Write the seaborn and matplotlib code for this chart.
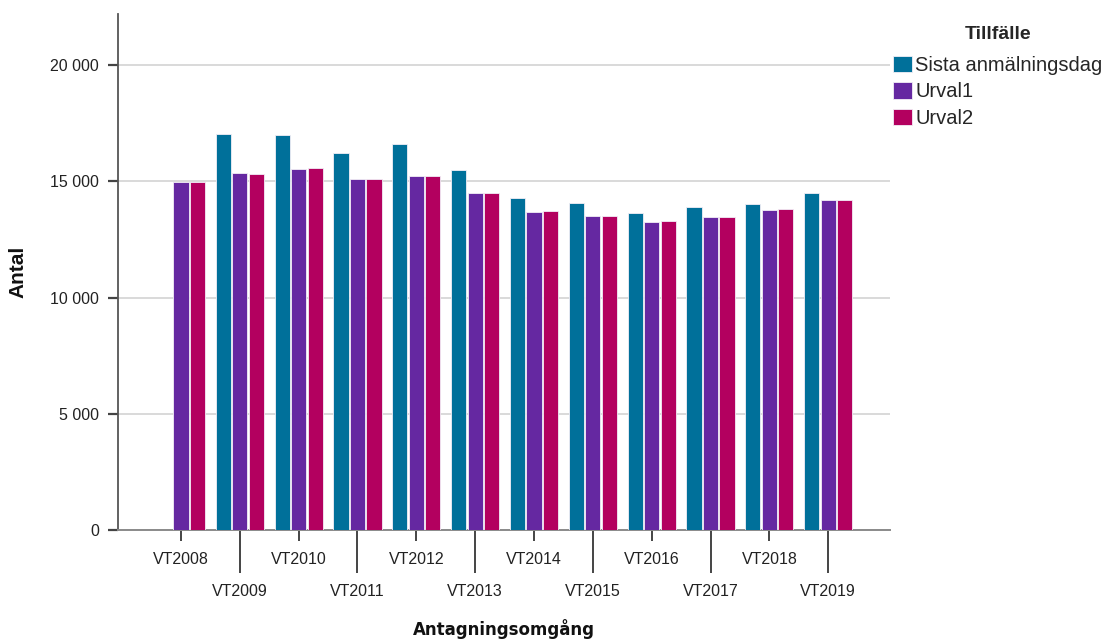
import numpy as np
import pandas as pd
import matplotlib
matplotlib.use("Agg")
import matplotlib.pyplot as plt
import seaborn as sns

# values
rounds = ["VT2008", "VT2009", "VT2010", "VT2011", "VT2012", "VT2013",
          "VT2014", "VT2015", "VT2016", "VT2017", "VT2018", "VT2019"]
sista = [np.nan, 17020, 17000, 16200, 16590, 15470,
         14290, 14070, 13630, 13890, 14020, 14510]
urval1 = [14970, 15340, 15530, 15100, 15250, 14510,
          13690, 13500, 13250, 13450, 13760, 14190]
urval2 = [14960, 15310, 15560, 15080, 15250, 14500,
          13720, 13530, 13290, 13460, 13790, 14210]
series = ["Sista anmälningsdag", "Urval1", "Urval2"]
colors = ["#00709A", "#6528A1", "#B3005F"]
y_ticks = [0, 5000, 10000, 15000, 20000]


def main() -> None:
    df = pd.DataFrame({
        "Antagningsomgång": rounds * 3,
        "Tillfälle": [series[0]] * 12 + [series[1]] * 12 + [series[2]] * 12,
        "Antal": sista + urval1 + urval2,
    })

    sns.set_style("white")
    plt.rcParams["font.family"] = ["Liberation Sans", "DejaVu Sans"]

    fig = plt.figure(figsize=(11.07, 6.41), dpi=100)
    ax = fig.add_axes([118 / 1107, 111 / 641, 772 / 1107, 516 / 641])

    sns.barplot(data=df, x="Antagningsomgång", y="Antal", hue="Tillfälle",
                hue_order=series, order=rounds, palette=colors, saturation=1,
                width=0.84, gap=0.08, errorbar=None,
                edgecolor="#f2eef6", linewidth=0.6, ax=ax, zorder=3)

    ax.set_ylim(0, 22200)
    ax.set_xlim(-1.07, 12.05)
    ax.set_yticks(y_ticks)
    ax.set_yticklabels([f"{v:,}".replace(",", " ") for v in y_ticks])
    ax.yaxis.grid(True, color="#cfcfcf", linewidth=1.1, zorder=0)
    ax.xaxis.grid(False)

    for side in ["top", "right"]:
        ax.spines[side].set_visible(False)
    ax.spines["left"].set_color("#555555")
    ax.spines["left"].set_linewidth(1.3)
    ax.spines["bottom"].set_color("#8a8a8a")
    ax.spines["bottom"].set_linewidth(1.4)

    # staggered category labels: even rounds on row 1, odd on row 2
    even = list(range(0, 12, 2))
    odd = list(range(1, 12, 2))
    ax.set_xticks(even, labels=[rounds[i] for i in even])
    ax.set_xticks(odd, labels=[rounds[i] for i in odd], minor=True)
    ax.tick_params(axis="x", which="major", length=7.7, width=1.4,
                   color="#444444", pad=8, labelsize=11.5, labelcolor="#222222",
                   bottom=True)
    ax.tick_params(axis="x", which="minor", length=30.7, width=1.4,
                   color="#444444", pad=8.5, labelsize=11.5, labelcolor="#222222",
                   bottom=True)
    ax.tick_params(axis="y", length=7, width=1.6, color="#444444", pad=6.5,
                   labelsize=11.5, labelcolor="#222222", left=True)

    ax.set_ylabel("Antal", fontsize=15, fontweight="bold", color="#111111")
    ax.yaxis.set_label_coords(-0.117, 0.5)
    ax.set_xlabel("Antagningsomgång", fontsize=12, fontweight="bold",
                  color="#111111", family="DejaVu Sans")
    ax.xaxis.set_label_coords(0.5, -0.172)

    handles, labels = ax.get_legend_handles_labels()
    ax.get_legend().remove()
    leg = fig.legend(handles, labels, title="Tillfälle", loc="upper left",
                     bbox_to_anchor=(889 / 1107, 1 - 22 / 641),
                     frameon=False, fontsize=14.5, handlelength=0.95,
                     handleheight=0.9, handletextpad=0.15, labelspacing=0.36,
                     borderpad=0.2, borderaxespad=0)
    leg.get_title().set_fontweight("bold")
    leg.get_title().set_fontsize(14)
    leg._legend_box.sep = 9

    fig.savefig("out.png", dpi=100)
    plt.close(fig)


if __name__ == "__main__":
    main()
